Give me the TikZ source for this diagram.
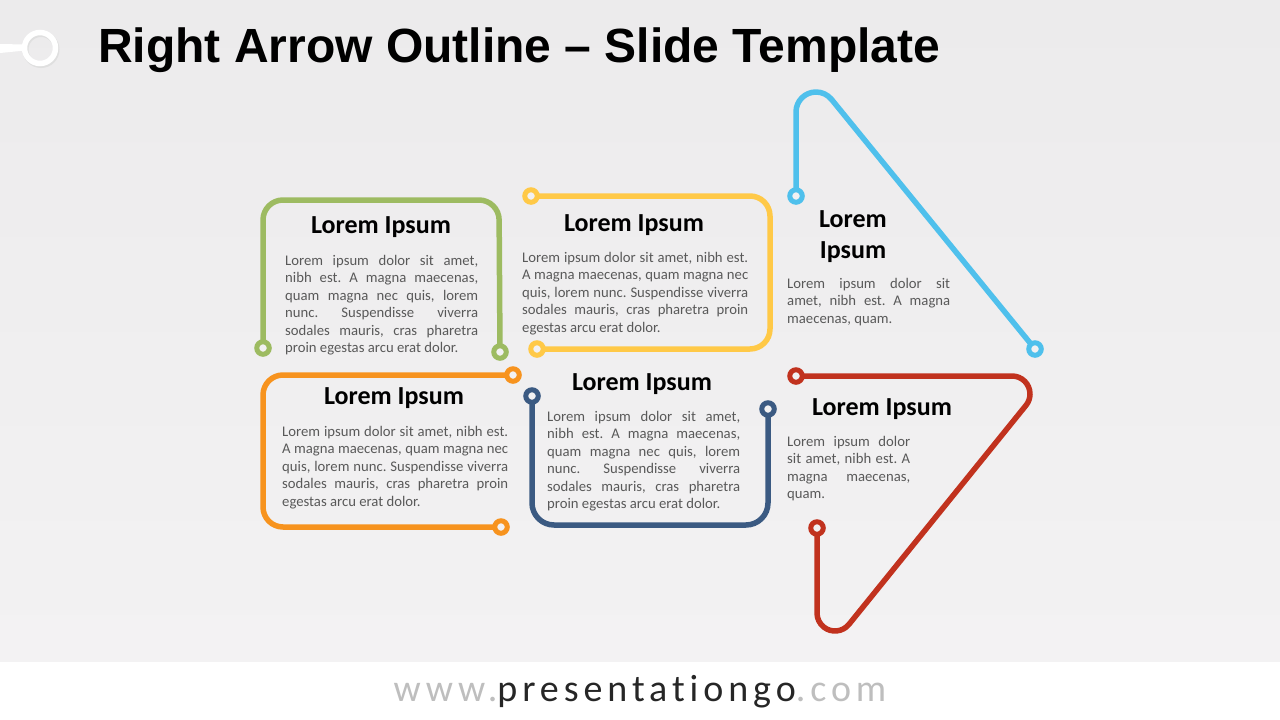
\documentclass[tikz,border=0pt]{standalone}
\usepackage{fontspec}
\setmainfont{Carlito}
\newfontfamily\titlefont{Liberation Sans}
\definecolor{bgtop}{RGB}{236,235,236}
\definecolor{bgbot}{RGB}{243,242,243}
\definecolor{dotfill}{RGB}{242,241,242}
\definecolor{cgreen}{RGB}{157,187,97}
\definecolor{cyellow}{RGB}{255,201,71}
\definecolor{cblue}{RGB}{79,192,236}
\definecolor{cred}{RGB}{193,50,30}
\definecolor{corange}{RGB}{247,147,30}
\definecolor{cnavy}{RGB}{59,90,130}
\definecolor{bodygray}{RGB}{89,89,89}
\definecolor{urlgray}{RGB}{190,190,190}
\definecolor{urldark}{RGB}{38,38,38}
\tikzset{
  outline/.style={line width=5.5pt, line cap=round, line join=round},
  enddot/.style={circle, draw, line width=5pt, fill=dotfill, minimum size=12.5pt, inner sep=0pt},
  head/.style={font=\fontsize{26}{30}\selectfont\bfseries, text=black, inner sep=0pt, anchor=base, align=center},
  body/.style={font=\fontsize{14.7}{17.5}\selectfont, text=bodygray, inner sep=0pt, anchor=north west},
}
\begin{document}
\frenchspacing
\begin{tikzpicture}[x=1pt,y=-1pt]
\useasboundingbox (0,0) rectangle (1280,720);
\shade[top color=bgtop,bottom color=bgbot] (0,0) rectangle (1280,662);
\fill[white] (0,662) rectangle (1280,720);

% logo
\fill[white] (0,44) -- (25,44.5) -- (25,50.5) -- (0,53) -- cycle;
\draw[gray!25, line width=6pt] (41,49.5) circle[radius=15.5];
\draw[white, line width=5.5pt] (40,48) circle[radius=15.5];

% title
\node[anchor=base west, inner sep=0pt, font=\titlefont\bfseries\fontsize{48}{50}\selectfont] (title) at (98,62) {Right Arrow Outline – Slide Template};

% coordinates
\coordinate (g1) at (263,348); \coordinate (g2) at (500,352);
\coordinate (y1) at (531,196); \coordinate (y2) at (537,349);
\coordinate (b1) at (796,196); \coordinate (b2) at (1035,349);
\coordinate (o1) at (513,375); \coordinate (o2) at (501,527);
\coordinate (n1) at (532,396); \coordinate (n2) at (768,409);
\coordinate (r1) at (796,376); \coordinate (r2) at (817,528);

% outlines
\draw[outline, cgreen, rounded corners=20pt] (g1) -- (263,200) -- (499,200) -- (g2);
\draw[outline, cyellow, rounded corners=20pt] (y1) -- (770,196) -- (770,349) -- (y2);
\draw[outline, cblue] (b1) -- (796,112) arc[start angle=180,end angle=321.1,radius=20] -- (b2);
\draw[outline, corange, rounded corners=20pt] (o1) -- (263,375) -- (263,527) -- (o2);
\draw[outline, cnavy, rounded corners=22pt] (n1) -- (532,525) -- (768,525) -- (n2);
\draw[outline, cred] (r1) -- (1012,376) arc[start angle=-90,end angle=38.9,radius=18] -- (849,624.3) arc[start angle=38.9,end angle=180,radius=18] -- (r2);

% end dots
\foreach \p/\c in {g1/cgreen,g2/cgreen,y1/cyellow,y2/cyellow,b1/cblue,b2/cblue,o1/corange,o2/corange,n1/cnavy,n2/cnavy,r1/cred,r2/cred}
  \node[enddot, draw=\c] (dot-\p) at (\p) {};

% headings
\node[head] (hg) at (381,233) {Lorem Ipsum};
\node[head] (hy) at (634,231) {Lorem Ipsum};
\node[head] (hb1) at (853,227) {Lorem};
\node[head] (hb2) at (853,258) {Ipsum};
\node[head] (ho) at (394,404) {Lorem Ipsum};
\node[head] (hn) at (642,390) {Lorem Ipsum};
\node[head] (hr) at (882,415) {Lorem Ipsum};

% body texts
\node[body] (tg) at (285,255) {\vbox{%
\hbox to 193pt{Lorem ipsum dolor sit amet,}
\hbox to 193pt{nibh est. A magna maecenas,}
\hbox to 193pt{quam magna nec quis, lorem}
\hbox to 193pt{nunc. Suspendisse viverra}
\hbox to 193pt{sodales mauris, cras pharetra}
\hbox{proin egestas arcu erat dolor.}}};

\node[body] (ty) at (522,252) {\vbox{%
\hbox to 226pt{Lorem ipsum dolor sit amet, nibh est.}
\hbox to 226pt{A magna maecenas, quam magna nec}
\hbox to 226pt{quis, lorem nunc. Suspendisse viverra}
\hbox to 226pt{sodales mauris, cras pharetra proin}
\hbox{egestas arcu erat dolor.}}};

\node[body] (tb) at (787,278) {\vbox{%
\hbox to 163pt{Lorem ipsum dolor sit}
\hbox to 163pt{amet, nibh est. A magna}
\hbox{maecenas, quam.}}};

\node[body] (to) at (282,426) {\vbox{%
\hbox to 226pt{Lorem ipsum dolor sit amet, nibh est.}
\hbox to 226pt{A magna maecenas, quam magna nec}
\hbox to 226pt{quis, lorem nunc. Suspendisse viverra}
\hbox to 226pt{sodales mauris, cras pharetra proin}
\hbox{egestas arcu erat dolor.}}};

\node[body] (tn) at (547,411) {\vbox{%
\hbox to 193pt{Lorem ipsum dolor sit amet,}
\hbox to 193pt{nibh est. A magna maecenas,}
\hbox to 193pt{quam magna nec quis, lorem}
\hbox to 193pt{nunc. Suspendisse viverra}
\hbox to 193pt{sodales mauris, cras pharetra}
\hbox{proin egestas arcu erat dolor.}}};

\node[body] (tr) at (787,436) {\vbox{%
\hbox to 123pt{Lorem ipsum dolor}
\hbox to 123pt{sit amet, nibh est. A}
\hbox to 123pt{magna maecenas,}
\hbox{quam.}}};

% footer
\node[anchor=base, inner sep=0pt, font=\fontsize{38}{40}\selectfont\addfontfeature{LetterSpace=13,Ligatures=NoCommon}] (url) at (640,701) {\textcolor{urlgray}{www.}\textcolor{urldark}{presentationgo}\textcolor{urlgray}{.com}};
\end{tikzpicture}
\end{document}
